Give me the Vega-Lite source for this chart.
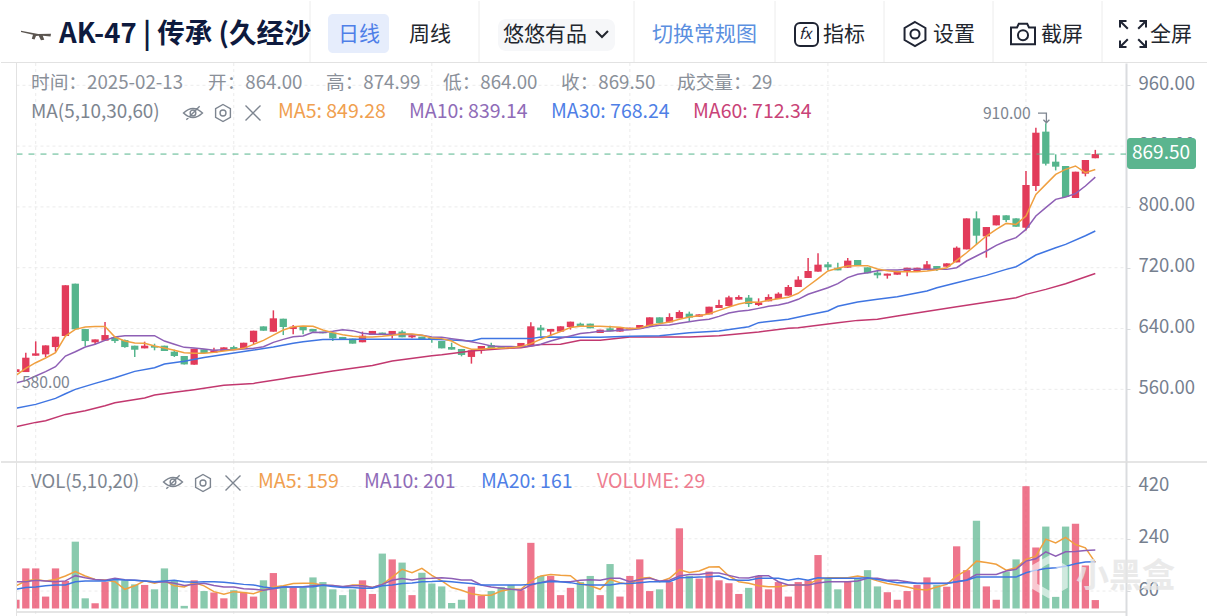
{"$schema":"https://vega.github.io/schema/vega-lite/v6.json","padding":0,"spacing":0,"bounds":"flush","background":"#ffffff","autosize":{"type":"pad"},
"config":{"view":{"stroke":null},"text":{"font":"Noto Sans CJK SC","baseline":"middle","align":"left"},"axis":{"labelFont":"Noto Sans CJK SC"}},
"datasets":{
"hgrid":[{"tick":560},{"tick":640},{"tick":720},{"tick":800},{"tick":880},{"tick":960}],
"vgrid":[{"day":2},{"day":22},{"day":42},{"day":62},{"day":82},{"day":102}],
"volgrid":[{"tick":60},{"tick":240},{"tick":420}],
"extremes":[{"day":104,"price":910,"label":"910.00"},{"day":0,"price":580,"label":"580.00"}],
"ma30":[{"day":0,"value":535},{"day":2,"value":540.2},{"day":4,"value":548.1},{"day":5,"value":554.2},{"day":6,"value":559.9},{"day":8,"value":567.8},{"day":10,"value":575.3},{"day":12,"value":583.6},{"day":14,"value":588.4},{"day":15,"value":593.3},{"day":17,"value":596.8},{"day":19,"value":602},{"day":22,"value":607.8},{"day":24,"value":611.7},{"day":26,"value":615.6},{"day":28,"value":620.5},{"day":29,"value":622.7},{"day":31,"value":625.4},{"day":35,"value":625.8},{"day":38,"value":625.8},{"day":42,"value":625.8},{"day":44,"value":624.9},{"day":46,"value":623.6},{"day":47,"value":626.7},{"day":49,"value":626.7},{"day":52,"value":626.7},{"day":53,"value":628.9},{"day":59,"value":628.5},{"day":62,"value":629.7},{"day":65,"value":630.6},{"day":68,"value":634.5},{"day":71,"value":636.7},{"day":74,"value":642.4},{"day":75,"value":647.7},{"day":78,"value":652.1},{"day":80,"value":657.8},{"day":82,"value":663},{"day":83,"value":669.2},{"day":85,"value":674.9},{"day":87,"value":678.4},{"day":89,"value":681.9},{"day":92,"value":689.3},{"day":93,"value":693.7},{"day":95,"value":700.3},{"day":98,"value":709.9},{"day":100,"value":717.8},{"day":101,"value":721.3},{"day":103,"value":736.7},{"day":105,"value":746.3},{"day":106,"value":750.7},{"day":108,"value":762.1},{"day":109,"value":768.24}],
"ma60":[{"day":0,"value":510.8},{"day":2,"value":516.5},{"day":3,"value":518.7},{"day":5,"value":527},{"day":7,"value":531.9},{"day":9,"value":538.4},{"day":10,"value":542.4},{"day":13,"value":548.5},{"day":14,"value":552.5},{"day":16,"value":556},{"day":18,"value":559.5},{"day":21,"value":565.2},{"day":24,"value":567.8},{"day":27,"value":574},{"day":28,"value":576.2},{"day":29,"value":578},{"day":32,"value":584.1},{"day":36,"value":591.2},{"day":38,"value":597.3},{"day":42,"value":604.3},{"day":43,"value":605.6},{"day":46,"value":610.5},{"day":49,"value":613.5},{"day":51,"value":614.8},{"day":53,"value":618.8},{"day":55,"value":619.2},{"day":57,"value":624.5},{"day":59,"value":624.5},{"day":62,"value":628.8},{"day":68,"value":628.8},{"day":71,"value":630.6},{"day":75,"value":635.4},{"day":78,"value":640.2},{"day":79,"value":641.1},{"day":83,"value":647.7},{"day":85,"value":650.7},{"day":87,"value":652.1},{"day":89,"value":656.5},{"day":95,"value":668.7},{"day":101,"value":680.5},{"day":102,"value":684.9},{"day":104,"value":691.5},{"day":106,"value":698.9},{"day":109,"value":712.34}],
"candles":[
{"day":0,"open":582.7,"close":586.3,"high":586.3,"low":580,"vol":30,"ma5":578.4,"ma10":568.3,"vma5":78,"vma10":92,"vma20":66},
{"day":1,"open":582.7,"close":601.6,"high":608.2,"low":582.7,"vol":138,"ma5":587.6,"ma10":571.8,"vma5":95,"vma10":92,"vma20":72},
{"day":2,"open":604.2,"close":607.3,"high":623.1,"low":604.2,"vol":138,"ma5":595,"ma10":577.5,"vma5":100,"vma10":97,"vma20":74},
{"day":3,"open":606,"close":617.8,"high":617.8,"low":602.5,"vol":41,"ma5":601.2,"ma10":583.2,"vma5":95,"vma10":95,"vma20":78},
{"day":4,"open":615.6,"close":629.2,"high":629.2,"low":609.5,"vol":138,"ma5":608.2,"ma10":589.8,"vma5":100,"vma10":92,"vma20":81},
{"day":5,"open":630.1,"close":696.8,"high":697,"low":630.1,"vol":95,"ma5":630.1,"ma10":603.8,"vma5":112,"vma10":95,"vma20":81},
{"day":6,"open":699,"close":638.9,"high":699,"low":638.9,"vol":230,"ma5":638.9,"ma10":609.5,"vma5":127,"vma10":113,"vma20":92},
{"day":7,"open":639.3,"close":623.5,"high":639.3,"low":617,"vol":35,"ma5":642,"ma10":615.6,"vma5":112,"vma10":106,"vma20":95},
{"day":8,"open":621.8,"close":625.7,"high":625.7,"low":619.2,"vol":18,"ma5":642.8,"ma10":619.2,"vma5":100,"vma10":100,"vma20":95},
{"day":9,"open":624,"close":631.4,"high":648.5,"low":624,"vol":92,"ma5":642.8,"ma10":624.4,"vma5":98,"vma10":97,"vma20":95},
{"day":10,"open":628.4,"close":623.5,"high":628.4,"low":620.9,"vol":97,"ma5":628.8,"ma10":628.8,"vma5":92,"vma10":104,"vma20":100},
{"day":11,"open":624.8,"close":615.6,"high":625.7,"low":614.8,"vol":97,"ma5":623.5,"ma10":630.6,"vma5":66,"vma10":99,"vma20":98},
{"day":12,"open":617.4,"close":612.1,"high":617.4,"low":602.5,"vol":83,"ma5":620.9,"ma10":630.6,"vma5":78,"vma10":97,"vma20":97},
{"day":13,"open":613.9,"close":617.4,"high":622.7,"low":613.9,"vol":81,"ma5":620.5,"ma10":630.6,"vma5":95,"vma10":95,"vma20":95},
{"day":14,"open":617,"close":614.8,"high":620,"low":611.3,"vol":66,"ma5":617,"ma10":630.6,"vma5":87,"vma10":91,"vma20":92},
{"day":15,"open":617.4,"close":610.4,"high":617.4,"low":610.4,"vol":138,"ma5":614.3,"ma10":623.5,"vma5":95,"vma10":92,"vma20":95},
{"day":16,"open":609.5,"close":603.8,"high":612.1,"low":602.5,"vol":98,"ma5":611.3,"ma10":619.2,"vma5":78,"vma10":87,"vma20":97},
{"day":17,"open":603.8,"close":592.8,"high":603.8,"low":592.8,"vol":9,"ma5":608.2,"ma10":615.2,"vma5":74,"vma10":79,"vma20":92},
{"day":18,"open":592.4,"close":613.4,"high":613.4,"low":592.4,"vol":97,"ma5":607.3,"ma10":614.3,"vma5":89,"vma10":83,"vma20":90},
{"day":19,"open":612.6,"close":607.7,"high":612.6,"low":607.7,"vol":60,"ma5":607.3,"ma10":613,"vma5":78,"vma10":87,"vma20":92},
{"day":20,"open":608.2,"close":611.3,"high":614.8,"low":608.2,"vol":55,"ma5":608.6,"ma10":611.3,"vma5":58,"vma10":79,"vma20":92},
{"day":21,"open":610.4,"close":615.2,"high":615.2,"low":610.4,"vol":35,"ma5":610.4,"ma10":612.1,"vma5":49,"vma10":74,"vma20":90},
{"day":22,"open":615.6,"close":612.6,"high":617.4,"low":612.6,"vol":63,"ma5":612.1,"ma10":612.1,"vma5":58,"vma10":74,"vma20":87},
{"day":23,"open":613.4,"close":621.3,"high":621.3,"low":613.4,"vol":55,"ma5":613.9,"ma10":613,"vma5":55,"vma10":68,"vma20":83},
{"day":24,"open":622.2,"close":637.1,"high":637.1,"low":619.2,"vol":41,"ma5":619.2,"ma10":613.9,"vma5":51,"vma10":66,"vma20":81},
{"day":25,"open":642.8,"close":637.1,"high":642.8,"low":637.1,"vol":97,"ma5":624.4,"ma10":616.1,"vma5":63,"vma10":63,"vma20":74},
{"day":26,"open":635.8,"close":653.4,"high":663.9,"low":635.8,"vol":122,"ma5":631.4,"ma10":621.8,"vma5":74,"vma10":68,"vma20":70},
{"day":27,"open":652.9,"close":642,"high":652.9,"low":631.4,"vol":78,"ma5":638,"ma10":625.7,"vma5":78,"vma10":74,"vma20":74},
{"day":28,"open":639.3,"close":642.4,"high":644.6,"low":632.3,"vol":72,"ma5":642.4,"ma10":629.2,"vma5":86,"vma10":74,"vma20":74},
{"day":29,"open":642.9,"close":637.6,"high":642.9,"low":632.4,"vol":72,"ma5":643.3,"ma10":630.2,"vma5":87,"vma10":75,"vma20":74},
{"day":30,"open":639.4,"close":635.9,"high":639.4,"low":635.9,"vol":107,"ma5":642.9,"ma10":635,"vma5":87,"vma10":78,"vma20":75},
{"day":31,"open":635.9,"close":633.7,"high":635.9,"low":633.7,"vol":91,"ma5":638.1,"ma10":634.6,"vma5":80,"vma10":81,"vma20":80},
{"day":32,"open":634.6,"close":627.1,"high":634.6,"low":623.6,"vol":66,"ma5":634.6,"ma10":636.3,"vma5":79,"vma10":79,"vma20":76},
{"day":33,"open":628.9,"close":626.2,"high":628.9,"low":626.2,"vol":46,"ma5":631.9,"ma10":638.5,"vma5":74,"vma10":76,"vma20":72},
{"day":34,"open":626.7,"close":620.1,"high":626.7,"low":620.1,"vol":66,"ma5":629.8,"ma10":637.2,"vma5":81,"vma10":78,"vma20":72},
{"day":35,"open":621.9,"close":630.6,"high":635.9,"low":621.9,"vol":97,"ma5":628.9,"ma10":633.7,"vma5":81,"vma10":78,"vma20":70},
{"day":36,"open":631.5,"close":636.8,"high":636.8,"low":631.5,"vol":50,"ma5":628.9,"ma10":632.4,"vma5":72,"vma10":72,"vma20":70},
{"day":37,"open":634.6,"close":631.9,"high":634.6,"low":631.9,"vol":189,"ma5":629.8,"ma10":632.4,"vma5":83,"vma10":83,"vma20":78},
{"day":38,"open":631.5,"close":636.8,"high":636.8,"low":626.7,"vol":169,"ma5":631.1,"ma10":632,"vma5":108,"vma10":97,"vma20":81},
{"day":39,"open":635.9,"close":628.4,"high":637.6,"low":628.4,"vol":158,"ma5":632.8,"ma10":632.4,"vma5":135,"vma10":103,"vma20":86},
{"day":40,"open":628.4,"close":631.1,"high":631.1,"low":627.1,"vol":46,"ma5":632.8,"ma10":632,"vma5":123,"vma10":98,"vma20":88},
{"day":41,"open":629.3,"close":625.4,"high":629.3,"low":625.4,"vol":123,"ma5":631.1,"ma10":631.1,"vma5":138,"vma10":103,"vma20":92},
{"day":42,"open":627.6,"close":624.9,"high":627.6,"low":621.4,"vol":86,"ma5":627.6,"ma10":628.9,"vma5":114,"vma10":104,"vma20":93},
{"day":43,"open":623.6,"close":613.9,"high":623.6,"low":613.9,"vol":76,"ma5":626.7,"ma10":628.4,"vma5":95,"vma10":106,"vma20":95},
{"day":44,"open":615.7,"close":612.2,"high":621.4,"low":612.2,"vol":19,"ma5":623.6,"ma10":626.7,"vma5":72,"vma10":103,"vma20":92},
{"day":45,"open":613.1,"close":605.2,"high":613.1,"low":603.4,"vol":30,"ma5":616.6,"ma10":624.9,"vma5":63,"vma10":98,"vma20":89},
{"day":46,"open":602.6,"close":611.3,"high":611.3,"low":593.8,"vol":75,"ma5":612.6,"ma10":622.7,"vma5":51,"vma10":98,"vma20":86},
{"day":47,"open":611.3,"close":617,"high":617,"low":606.9,"vol":44,"ma5":612.6,"ma10":620.1,"vma5":46,"vma10":81,"vma20":81},
{"day":48,"open":618.3,"close":613.9,"high":621.4,"low":613.9,"vol":60,"ma5":613.9,"ma10":617,"vma5":46,"vma10":74,"vma20":81},
{"day":49,"open":615.7,"close":613.9,"high":615.7,"low":613.9,"vol":74,"ma5":613.9,"ma10":616.2,"vma5":60,"vma10":70,"vma20":81},
{"day":50,"open":615.7,"close":613.9,"high":615.7,"low":613.9,"vol":81,"ma5":614.8,"ma10":616.2,"vma5":66,"vma10":66,"vma20":81},
{"day":51,"open":614.8,"close":621,"high":621,"low":614.8,"vol":63,"ma5":616.2,"ma10":615.7,"vma5":66,"vma10":63,"vma20":81},
{"day":52,"open":617,"close":642.9,"high":648.2,"low":617,"vol":226,"ma5":620.1,"ma10":617,"vma5":95,"vma10":81,"vma20":83},
{"day":53,"open":641.2,"close":637.6,"high":644.7,"low":629.7,"vol":112,"ma5":625.8,"ma10":619.2,"vma5":112,"vma10":89,"vma20":89},
{"day":54,"open":635.9,"close":639.4,"high":639.4,"low":630.2,"vol":112,"ma5":631.1,"ma10":623.6,"vma5":117,"vma10":97,"vma20":93},
{"day":55,"open":635.9,"close":642.9,"high":642.9,"low":635.9,"vol":46,"ma5":635.9,"ma10":627.1,"vma5":114,"vma10":92,"vma20":92},
{"day":56,"open":642,"close":649,"high":649,"low":638.5,"vol":71,"ma5":641.2,"ma10":630.2,"vma5":113,"vma10":92,"vma20":89},
{"day":57,"open":646.4,"close":642.9,"high":647.7,"low":642.9,"vol":91,"ma5":642.9,"ma10":633.3,"vma5":86,"vma10":97,"vma20":83},
{"day":58,"open":646.4,"close":640.3,"high":646.4,"low":640.3,"vol":112,"ma5":642.9,"ma10":634.6,"vma5":78,"vma10":99,"vma20":81},
{"day":59,"open":634.1,"close":638.5,"high":638.5,"low":634.1,"vol":46,"ma5":642.9,"ma10":636.3,"vma5":66,"vma10":97,"vma20":81},
{"day":60,"open":640.2,"close":636.3,"high":643.7,"low":636.3,"vol":153,"ma5":642.4,"ma10":636.7,"vma5":100,"vma10":104,"vma20":81},
{"day":61,"open":635.9,"close":641.1,"high":641.1,"low":635.9,"vol":41,"ma5":641.5,"ma10":637.6,"vma5":89,"vma10":104,"vma20":86},
{"day":62,"open":638.5,"close":641.1,"high":641.1,"low":638.5,"vol":112,"ma5":639.8,"ma10":638.5,"vma5":83,"vma10":92,"vma20":86},
{"day":63,"open":639.4,"close":644.6,"high":644.6,"low":639.4,"vol":169,"ma5":640.7,"ma10":639.8,"vma5":104,"vma10":100,"vma20":89},
{"day":64,"open":643.3,"close":654.7,"high":654.7,"low":643.3,"vol":60,"ma5":644.2,"ma10":642.4,"vma5":107,"vma10":104,"vma20":92},
{"day":65,"open":654.7,"close":647.2,"high":654.7,"low":647.2,"vol":66,"ma5":646.4,"ma10":644.2,"vma5":92,"vma10":95,"vma20":92},
{"day":66,"open":648.1,"close":655.1,"high":660,"low":648.1,"vol":91,"ma5":648.6,"ma10":644.6,"vma5":104,"vma10":97,"vma20":92},
{"day":67,"open":653.4,"close":661.7,"high":663.9,"low":653.4,"vol":276,"ma5":652.1,"ma10":646.8,"vma5":133,"vma10":112,"vma20":106},
{"day":68,"open":659.5,"close":654.3,"high":662.2,"low":649,"vol":112,"ma5":655.1,"ma10":649,"vma5":124,"vma10":117,"vma20":107},
{"day":69,"open":655.6,"close":658.6,"high":658.6,"low":655.6,"vol":103,"ma5":656.9,"ma10":650.8,"vma5":129,"vma10":117,"vma20":108},
{"day":70,"open":658.6,"close":668.7,"high":668.7,"low":658.6,"vol":127,"ma5":659.5,"ma10":652.1,"vma5":143,"vma10":122,"vma20":109},
{"day":71,"open":667,"close":670.9,"high":678,"low":667,"vol":97,"ma5":663.9,"ma10":656,"vma5":144,"vma10":122,"vma20":112},
{"day":72,"open":669.6,"close":681,"high":683.2,"low":669.6,"vol":87,"ma5":668.3,"ma10":660.4,"vma5":112,"vma10":114,"vma20":100},
{"day":73,"open":678,"close":681.5,"high":683.6,"low":678,"vol":50,"ma5":672.2,"ma10":662.6,"vma5":92,"vma10":106,"vma20":97},
{"day":74,"open":680.6,"close":672.2,"high":684.1,"low":668.3,"vol":71,"ma5":674.9,"ma10":663.9,"vma5":87,"vma10":105,"vma20":97},
{"day":75,"open":670.9,"close":674.4,"high":679.7,"low":669.6,"vol":112,"ma5":674.4,"ma10":666.5,"vma5":78,"vma10":113,"vma20":104},
{"day":76,"open":675.8,"close":681.5,"high":685,"low":675.8,"vol":66,"ma5":677.1,"ma10":669.2,"vma5":75,"vma10":113,"vma20":104},
{"day":77,"open":678.8,"close":685.8,"high":687.6,"low":678.8,"vol":91,"ma5":679.3,"ma10":670.9,"vma5":75,"vma10":92,"vma20":104},
{"day":78,"open":683.2,"close":694.6,"high":697.2,"low":683.2,"vol":41,"ma5":681,"ma10":674,"vma5":80,"vma10":81,"vma20":97},
{"day":79,"open":694.6,"close":704.3,"high":708.6,"low":694.6,"vol":91,"ma5":686.3,"ma10":678.4,"vma5":80,"vma10":81,"vma20":103},
{"day":80,"open":706.5,"close":715.7,"high":732.8,"low":706.5,"vol":97,"ma5":695.9,"ma10":685,"vma5":83,"vma10":81,"vma20":97},
{"day":81,"open":714.8,"close":724,"high":738.9,"low":714.8,"vol":184,"ma5":705.6,"ma10":689.4,"vma5":100,"vma10":88,"vma20":106},
{"day":82,"open":724.4,"close":720.5,"high":727.5,"low":716.5,"vol":103,"ma5":715.7,"ma10":693.7,"vma5":106,"vma10":92,"vma20":104},
{"day":83,"open":720,"close":716.5,"high":726.6,"low":716.5,"vol":66,"ma5":719.2,"ma10":699,"vma5":106,"vma10":92,"vma20":104},
{"day":84,"open":720,"close":729.3,"high":732.8,"low":720,"vol":92,"ma5":722.2,"ma10":706.9,"vma5":106,"vma10":92,"vma20":104},
{"day":85,"open":730.1,"close":722.7,"high":730.1,"low":722.7,"vol":104,"ma5":722.7,"ma10":711.3,"vma5":112,"vma10":95,"vma20":104},
{"day":86,"open":720.5,"close":712.6,"high":720.5,"low":712.6,"vol":132,"ma5":722.7,"ma10":713.5,"vma5":106,"vma10":104,"vma20":106},
{"day":87,"open":713.5,"close":710,"high":716.5,"low":706,"vol":76,"ma5":718.3,"ma10":716.1,"vma5":95,"vma10":104,"vma20":100},
{"day":88,"open":709.5,"close":712.2,"high":712.2,"low":705.6,"vol":56,"ma5":716.1,"ma10":717,"vma5":86,"vma10":97,"vma20":95},
{"day":89,"open":710.8,"close":714.8,"high":714.8,"low":710.8,"vol":30,"ma5":714.8,"ma10":717,"vma5":81,"vma10":97,"vma20":89},
{"day":90,"open":714.7,"close":720,"high":720,"low":708.6,"vol":60,"ma5":714.7,"ma10":717.8,"vma5":74,"vma10":92,"vma20":89},
{"day":91,"open":715.6,"close":720,"high":720,"low":715.6,"vol":81,"ma5":714.7,"ma10":717.8,"vma5":66,"vma10":87,"vma20":86},
{"day":92,"open":717.8,"close":724.4,"high":728.8,"low":717.8,"vol":107,"ma5":715.6,"ma10":717.8,"vma5":64,"vma10":87,"vma20":86},
{"day":93,"open":722.2,"close":717.8,"high":722.2,"low":715.6,"vol":81,"ma5":717.4,"ma10":717.8,"vma5":74,"vma10":87,"vma20":86},
{"day":94,"open":721.3,"close":725.7,"high":725.7,"low":721.3,"vol":75,"ma5":720,"ma10":717.8,"vma5":83,"vma10":87,"vma20":86},
{"day":95,"open":727,"close":746.3,"high":748,"low":727,"vol":214,"ma5":729.6,"ma10":720,"vma5":112,"vma10":92,"vma20":92},
{"day":96,"open":744.1,"close":784.9,"high":784.9,"low":744.1,"vol":132,"ma5":739.7,"ma10":728.8,"vma5":131,"vma10":98,"vma20":97},
{"day":97,"open":784.9,"close":762.1,"high":794.1,"low":750.7,"vol":302,"ma5":750.7,"ma10":735.4,"vma5":163,"vma10":117,"vma20":108},
{"day":98,"open":761.2,"close":773.5,"high":773.5,"low":733.2,"vol":76,"ma5":761.7,"ma10":742,"vma5":158,"vma10":117,"vma20":108},
{"day":99,"open":775.7,"close":788.9,"high":788.9,"low":775.7,"vol":30,"ma5":770.4,"ma10":749.4,"vma5":152,"vma10":117,"vma20":108},
{"day":100,"open":788.9,"close":782.7,"high":788.9,"low":780.1,"vol":127,"ma5":778.3,"ma10":755.1,"vma5":132,"vma10":129,"vma20":108},
{"day":101,"open":784.9,"close":773.9,"high":784.9,"low":773.9,"vol":169,"ma5":777,"ma10":759.5,"vma5":140,"vma10":135,"vma20":108},
{"day":102,"open":772.6,"close":828.8,"high":847.2,"low":769.1,"vol":421,"ma5":788,"ma10":770.4,"vma5":169,"vma10":163,"vma20":123},
{"day":103,"open":827.5,"close":897.6,"high":904.2,"low":820.9,"vol":210,"ma5":816.5,"ma10":788,"vma5":180,"vma10":171,"vma20":132},
{"day":104,"open":899,"close":856.8,"high":910,"low":854.6,"vol":282,"ma5":829.6,"ma10":799,"vma5":239,"vma10":195,"vma20":138},
{"day":105,"open":859.5,"close":852.9,"high":869.1,"low":848,"vol":40,"ma5":842.8,"ma10":809.9,"vma5":226,"vma10":180,"vma20":140},
{"day":106,"open":853.8,"close":813,"high":853.8,"low":813,"vol":282,"ma5":849.4,"ma10":813,"vma5":245,"vma10":195,"vma20":145},
{"day":107,"open":811.7,"close":846.3,"high":846.3,"low":811.7,"vol":292,"ma5":853.8,"ma10":817.4,"vma5":220,"vma10":196,"vma20":154},
{"day":108,"open":843.7,"close":861.7,"high":861.7,"low":840.2,"vol":148,"ma5":845,"ma10":827.5,"vma5":209,"vma10":200,"vma20":160},
{"day":109,"open":864,"close":869.5,"high":874.99,"low":864,"vol":29,"ma5":849.28,"ma10":839.14,"vma5":159,"vma10":201,"vma20":161}
]},
"vconcat":[
{"width":1207,"height":62,"data":{"values":[{}]},"layer":[
{"mark":{"type":"rect","x":327,"x2":388,"y":13,"y2":52,"cornerRadius":5,"fill":"#e6edfc"}},
{"mark":{"type":"rect","x":497,"x2":614,"y":18,"y2":50,"cornerRadius":8,"fill":"#f6f7f9"}},
{"mark":{"type":"rule","stroke":"#ececec"},"encoding":{"x":{"value":309},"y":{"value":0},"y2":{"value":62}}},
{"mark":{"type":"rule","stroke":"#ececec"},"encoding":{"x":{"value":478},"y":{"value":0},"y2":{"value":62}}},
{"mark":{"type":"rule","stroke":"#ececec"},"encoding":{"x":{"value":633},"y":{"value":0},"y2":{"value":62}}},
{"mark":{"type":"rule","stroke":"#ececec"},"encoding":{"x":{"value":774},"y":{"value":0},"y2":{"value":62}}},
{"mark":{"type":"rule","stroke":"#ececec"},"encoding":{"x":{"value":883},"y":{"value":0},"y2":{"value":62}}},
{"mark":{"type":"rule","stroke":"#ececec"},"encoding":{"x":{"value":992},"y":{"value":0},"y2":{"value":62}}},
{"mark":{"type":"rule","stroke":"#ececec"},"encoding":{"x":{"value":1101},"y":{"value":0},"y2":{"value":62}}},
{"mark":{"type":"rule","stroke":"#e2e2e2"},"encoding":{"x":{"value":0},"x2":{"value":1207},"y":{"value":61.5}}},
{"mark":{"type":"point","x":35,"y":33,"size":900,"filled":true,"fill":"#5b5550","opacity":1,"shape":"M-1,-0.22 L0.15,0 L1,-0.02 L0.97,0.16 L0.45,0.12 L0.55,0.38 L0.33,0.42 L0.18,0.12 L0,0.14 L-0.1,0.36 L-0.28,0.32 L-0.2,0.05 L-1,-0.14 Z"}},
{"mark":{"type":"text","x":58,"y":34,"text":"AK-47 | 传承 (久经沙","fontSize":27.5,"fontWeight":"bold","color":"#0e1a3e"}},
{"mark":{"type":"text","x":337,"y":34,"text":"日线","fontSize":21,"color":"#4f7fe8"}},
{"mark":{"type":"text","x":408,"y":34,"text":"周线","fontSize":21,"color":"#22262e"}},
{"mark":{"type":"text","x":502,"y":34,"text":"悠悠有品","fontSize":21,"color":"#22262e"}},
{"mark":{"type":"point","x":601,"y":33,"size":144,"filled":false,"stroke":"#22262e","strokeWidth":2,"opacity":1,"shape":"M-1,-0.5 L0,0.5 L1,-0.5"}},
{"mark":{"type":"text","x":651,"y":34,"text":"切换常规图","fontSize":21,"color":"#5b8fe0"}},
{"mark":{"type":"rect","x":794,"x2":817,"y":22,"y2":45,"cornerRadius":5,"fill":"#ffffff","stroke":"#1f2433","strokeWidth":2}},
{"mark":{"type":"text","x":798,"y":33,"text":"fx","fontSize":15,"fontStyle":"italic","color":"#1f2433"}},
{"mark":{"type":"text","x":822,"y":34,"text":"指标","fontSize":21,"color":"#22262e"}},
{"mark":{"type":"point","x":914,"y":33,"size":576,"filled":false,"stroke":"#1f2433","strokeWidth":2,"opacity":1,"shape":"M0,-1 L0.87,-0.5 L0.87,0.5 L0,1 L-0.87,0.5 L-0.87,-0.5 Z M0.38,0 A0.38,0.38 0 1,1 -0.38,0 A0.38,0.38 0 1,1 0.38,0 Z"}},
{"mark":{"type":"text","x":932,"y":34,"text":"设置","fontSize":21,"color":"#22262e"}},
{"mark":{"type":"point","x":1022,"y":33,"size":576,"filled":false,"stroke":"#1f2433","strokeWidth":2,"opacity":1,"shape":"M-1,-0.55 L-0.5,-0.55 L-0.35,-0.85 L0.35,-0.85 L0.5,-0.55 L1,-0.55 L1,0.85 L-1,0.85 Z M0.42,0.1 A0.42,0.42 0 1,1 -0.42,0.1 A0.42,0.42 0 1,1 0.42,0.1 Z"}},
{"mark":{"type":"text","x":1040,"y":34,"text":"截屏","fontSize":21,"color":"#22262e"}},
{"mark":{"type":"point","x":1132,"y":33,"size":676,"filled":false,"stroke":"#1f2433","strokeWidth":2,"opacity":1,"shape":"M-1,-0.5 L-1,-1 L-0.5,-1 M-1,-1 L-0.4,-0.4 M0.5,-1 L1,-1 L1,-0.5 M1,-1 L0.4,-0.4 M-1,0.5 L-1,1 L-0.5,1 M-1,1 L-0.4,0.4 M0.5,1 L1,1 L1,0.5 M1,1 L0.4,0.4"}},
{"mark":{"type":"text","x":1149,"y":34,"text":"全屏","fontSize":21,"color":"#22262e"}}
]},
{"width":1125,"height":398,"layer":[
{"data":{"name":"hgrid"},"mark":{"type":"rule","stroke":"#ebebeb","strokeDash":[3,3]},"encoding":{"x":{"datum":0.06,"type":"quantitative","scale":{"domain":[0,109],"range":[14.9,1094.3],"nice":false,"zero":false,"padding":0},"axis":null},"x2":{"datum":112.1},"y":{"field":"tick","type":"quantitative","scale":{"domain":[465.7,989.3],"nice":false,"zero":false,"padding":0},"axis":{"orient":"right","values":[560,640,720,800,880,960],"format":".2f","title":null,"grid":false,"domainColor":"#dadcdf","domainWidth":2,"tickColor":"#dadcdf","tickSize":4,"labelFontSize":18.5,"labelColor":"#76808f","labelPadding":8,"labelOffset":-2}}}},
{"data":{"name":"vgrid"},"mark":{"type":"rule","stroke":"#ebebeb","strokeDash":[3,3]},"encoding":{"x":{"field":"day","type":"quantitative","axis":null}}},
{"data":{"name":"candles"},"mark":{"type":"rule","strokeWidth":1.5},"encoding":{"x":{"field":"day","type":"quantitative","axis":null},"y":{"field":"low","type":"quantitative","title":null},"y2":{"field":"high"},"color":{"condition":{"test":"datum.close>=datum.open","value":"#e23b5a"},"value":"#55b58d"}}},
{"data":{"name":"candles"},"mark":{"type":"bar","orient":"vertical","width":7.3},"encoding":{"x":{"field":"day","type":"quantitative","axis":null},"y":{"field":"open","type":"quantitative","title":null},"y2":{"field":"close"},"color":{"condition":{"test":"datum.close>=datum.open","value":"#e23b5a"},"value":"#55b58d"}}},
{"data":{"name":"ma60"},"mark":{"type":"line","stroke":"#c2386f","strokeWidth":1.5},"encoding":{"x":{"field":"day","type":"quantitative","axis":null},"y":{"field":"value","type":"quantitative","title":null}}},
{"data":{"name":"ma30"},"mark":{"type":"line","stroke":"#3f75e2","strokeWidth":1.5},"encoding":{"x":{"field":"day","type":"quantitative","axis":null},"y":{"field":"value","type":"quantitative","title":null}}},
{"data":{"name":"candles"},"mark":{"type":"line","stroke":"#8e5fb5","strokeWidth":1.5},"encoding":{"x":{"field":"day","type":"quantitative","axis":null},"y":{"field":"ma10","type":"quantitative","title":null}}},
{"data":{"name":"candles"},"mark":{"type":"line","stroke":"#f0a040","strokeWidth":1.5},"encoding":{"x":{"field":"day","type":"quantitative","axis":null},"y":{"field":"ma5","type":"quantitative","title":null}}},
{"data":{"values":[{"price":869.5}]},"mark":{"type":"rule","stroke":"#55b58d","strokeDash":[6,6]},"encoding":{"x":{"datum":0.06,"type":"quantitative","axis":null},"x2":{"datum":112.1},"y":{"field":"price","type":"quantitative","title":null}}},
{"data":{"name":"extremes"},"transform":[{"filter":"datum.day==104"}],"mark":{"type":"text","align":"right","dx":-15,"dy":-9,"fontSize":15.7,"color":"#7d8590"},"encoding":{"x":{"field":"day","type":"quantitative","axis":null},"y":{"field":"price","type":"quantitative","title":null},"text":{"field":"label"}}},
{"data":{"name":"extremes"},"transform":[{"filter":"datum.day==0"}],"mark":{"type":"text","align":"left","dx":6,"dy":9,"fontSize":15.7,"color":"#7d8590"},"encoding":{"x":{"field":"day","type":"quantitative","axis":null},"y":{"field":"price","type":"quantitative","title":null},"text":{"field":"label"}}},
{"data":{"values":[{}]},"layer":[
{"mark":{"type":"rect","x":0,"x2":15,"y":0,"y2":398,"fill":"#ffffff"}},
{"mark":{"type":"rule","stroke":"#e2e2e2"},"encoding":{"x":{"value":15.5},"y":{"value":0},"y2":{"value":398}}},
{"mark":{"type":"point","x":1043,"y":55,"size":144,"filled":false,"stroke":"#7d8590","strokeWidth":1.3,"opacity":1,"shape":"M-1,-0.8 L0.4,-0.8 L0.4,0.8 M-0.1,0.3 L0.4,0.8 L0.9,0.3"}},
{"mark":{"type":"rect","x":1126,"x2":1195,"y":75,"y2":106,"cornerRadius":3,"fill":"#5bb58f"}},
{"mark":{"type":"text","x":1131,"y":90,"text":"869.50","fontSize":19,"color":"#ffffff"}},
{"mark":{"type":"text","x":30,"y":20,"text":"时间：2025-02-13","fontSize":18.7,"color":"#8a9099"}},
{"mark":{"type":"text","x":207,"y":20,"text":"开：864.00","fontSize":18.7,"color":"#8a9099"}},
{"mark":{"type":"text","x":325,"y":20,"text":"高：874.99","fontSize":18.7,"color":"#8a9099"}},
{"mark":{"type":"text","x":442,"y":20,"text":"低：864.00","fontSize":18.7,"color":"#8a9099"}},
{"mark":{"type":"text","x":560,"y":20,"text":"收：869.50","fontSize":18.7,"color":"#8a9099"}},
{"mark":{"type":"text","x":676,"y":20,"text":"成交量：29","fontSize":18.7,"color":"#8a9099"}},
{"mark":{"type":"text","x":30,"y":49,"text":"MA(5,10,30,60)","fontSize":18.9,"color":"#7d8590"}},
{"mark":{"type":"point","x":192,"y":50,"size":361,"filled":false,"stroke":"#7d8590","strokeWidth":1.4,"opacity":1,"shape":"M-1,0 Q0,-0.95 1,0 Q0,0.95 -1,0 Z M0.3,0 A0.3,0.3 0 1,1 -0.3,0 A0.3,0.3 0 1,1 0.3,0 Z M-0.7,0.7 L0.7,-0.7"}},
{"mark":{"type":"point","x":222,"y":50,"size":289,"filled":false,"stroke":"#7d8590","strokeWidth":1.4,"opacity":1,"shape":"M0,-1 L0.87,-0.5 L0.87,0.5 L0,1 L-0.87,0.5 L-0.87,-0.5 Z M0.35,0 A0.35,0.35 0 1,1 -0.35,0 A0.35,0.35 0 1,1 0.35,0 Z"}},
{"mark":{"type":"point","x":252,"y":50,"size":225,"filled":false,"stroke":"#7d8590","strokeWidth":1.4,"opacity":1,"shape":"M-1,-1 L1,1 M-1,1 L1,-1"}},
{"mark":{"type":"text","x":277,"y":49,"text":"MA5: 849.28","fontSize":19.5,"color":"#f0a050"}},
{"mark":{"type":"text","x":408,"y":49,"text":"MA10: 839.14","fontSize":19.5,"color":"#8f6cb8"}},
{"mark":{"type":"text","x":550,"y":49,"text":"MA30: 768.24","fontSize":19.5,"color":"#4f7fe6"}},
{"mark":{"type":"text","x":692,"y":49,"text":"MA60: 712.34","fontSize":19.5,"color":"#c94377"}}
]}
]},
{"width":1125,"height":156,"layer":[
{"data":{"name":"volgrid"},"mark":{"type":"rule","stroke":"#ebebeb","strokeDash":[3,3]},"encoding":{"x":{"datum":0.06,"type":"quantitative","scale":{"domain":[0,109],"range":[14.9,1094.3],"nice":false,"zero":false,"padding":0},"axis":null},"x2":{"datum":112.1},"y":{"field":"tick","type":"quantitative","scale":{"domain":[-29.3,507.7],"nice":false,"zero":false,"padding":0},"axis":{"orient":"right","values":[60,240,420],"format":"d","title":null,"grid":false,"domainColor":"#dadcdf","domainWidth":2,"tickColor":"#dadcdf","tickSize":4,"labelFontSize":18.5,"labelColor":"#76808f","labelPadding":8,"labelOffset":-2}}}},
{"data":{"name":"vgrid"},"mark":{"type":"rule","stroke":"#ebebeb","strokeDash":[3,3]},"encoding":{"x":{"field":"day","type":"quantitative","axis":null}}},
{"data":{"name":"candles"},"mark":{"type":"bar","orient":"vertical","width":7.3,"opacity":0.72},"encoding":{"x":{"field":"day","type":"quantitative","axis":null},"y":{"field":"vol","type":"quantitative","title":null,"stack":null},"y2":{"datum":0},"color":{"condition":{"test":"datum.close>=datum.open","value":"#e7405f"},"value":"#5bb58f"}}},
{"data":{"name":"candles"},"mark":{"type":"line","stroke":"#f0a040","strokeWidth":1.5},"encoding":{"x":{"field":"day","type":"quantitative","axis":null},"y":{"field":"vma5","type":"quantitative","title":null}}},
{"data":{"name":"candles"},"mark":{"type":"line","stroke":"#8e5fb5","strokeWidth":1.5},"encoding":{"x":{"field":"day","type":"quantitative","axis":null},"y":{"field":"vma10","type":"quantitative","title":null}}},
{"data":{"name":"candles"},"mark":{"type":"line","stroke":"#3f75e2","strokeWidth":1.5},"encoding":{"x":{"field":"day","type":"quantitative","axis":null},"y":{"field":"vma20","type":"quantitative","title":null}}},
{"data":{"values":[{"v":504.3}]},"mark":{"type":"rule","stroke":"#dcdcdc","strokeWidth":1.5},"encoding":{"x":{"value":0},"x2":{"value":1207},"y":{"field":"v","type":"quantitative","title":null}}},
{"data":{"values":[{"v":-12}]},"mark":{"type":"rule","stroke":"#dcdcdc","strokeWidth":1.5},"encoding":{"x":{"value":15},"x2":{"value":1125},"y":{"field":"v","type":"quantitative","title":null}}},
{"data":{"values":[{}]},"layer":[
{"mark":{"type":"rect","x":0,"x2":15,"y":2,"y2":156,"fill":"#ffffff"}},
{"mark":{"type":"rule","stroke":"#e2e2e2"},"encoding":{"x":{"value":15.5},"y":{"value":0},"y2":{"value":156}}},
{"mark":{"type":"text","x":30,"y":21,"text":"VOL(5,10,20)","fontSize":18.5,"color":"#7d8590"}},
{"mark":{"type":"point","x":172,"y":21,"size":361,"filled":false,"stroke":"#7d8590","strokeWidth":1.4,"opacity":1,"shape":"M-1,0 Q0,-0.95 1,0 Q0,0.95 -1,0 Z M0.3,0 A0.3,0.3 0 1,1 -0.3,0 A0.3,0.3 0 1,1 0.3,0 Z M-0.7,0.7 L0.7,-0.7"}},
{"mark":{"type":"point","x":202,"y":22,"size":289,"filled":false,"stroke":"#7d8590","strokeWidth":1.4,"opacity":1,"shape":"M0,-1 L0.87,-0.5 L0.87,0.5 L0,1 L-0.87,0.5 L-0.87,-0.5 Z M0.35,0 A0.35,0.35 0 1,1 -0.35,0 A0.35,0.35 0 1,1 0.35,0 Z"}},
{"mark":{"type":"point","x":232,"y":22,"size":225,"filled":false,"stroke":"#7d8590","strokeWidth":1.4,"opacity":1,"shape":"M-1,-1 L1,1 M-1,1 L1,-1"}},
{"mark":{"type":"text","x":257,"y":21,"text":"MA5: 159","fontSize":19.5,"color":"#f0a050"}},
{"mark":{"type":"text","x":363,"y":21,"text":"MA10: 201","fontSize":19.5,"color":"#8f6cb8"}},
{"mark":{"type":"text","x":480,"y":21,"text":"MA20: 161","fontSize":19.5,"color":"#4f7fe6"}},
{"mark":{"type":"text","x":596,"y":21,"text":"VOLUME: 29","fontSize":19.5,"color":"#ee7d90"}},
{"mark":{"type":"point","x":1048,"y":116,"size":1225,"filled":false,"stroke":"#ffffff","strokeWidth":7,"opacity":0.6,"shape":"M0,-1 L0.87,-0.5 L0.87,0.5 L0,1 L-0.87,0.5 L-0.87,-0.5 Z"}},
{"mark":{"type":"text","x":1075,"y":116,"text":"小黑盒","fontSize":33,"fontWeight":"bold","color":"#e6e6e6","opacity":0.8}}
]}
]}
]}
